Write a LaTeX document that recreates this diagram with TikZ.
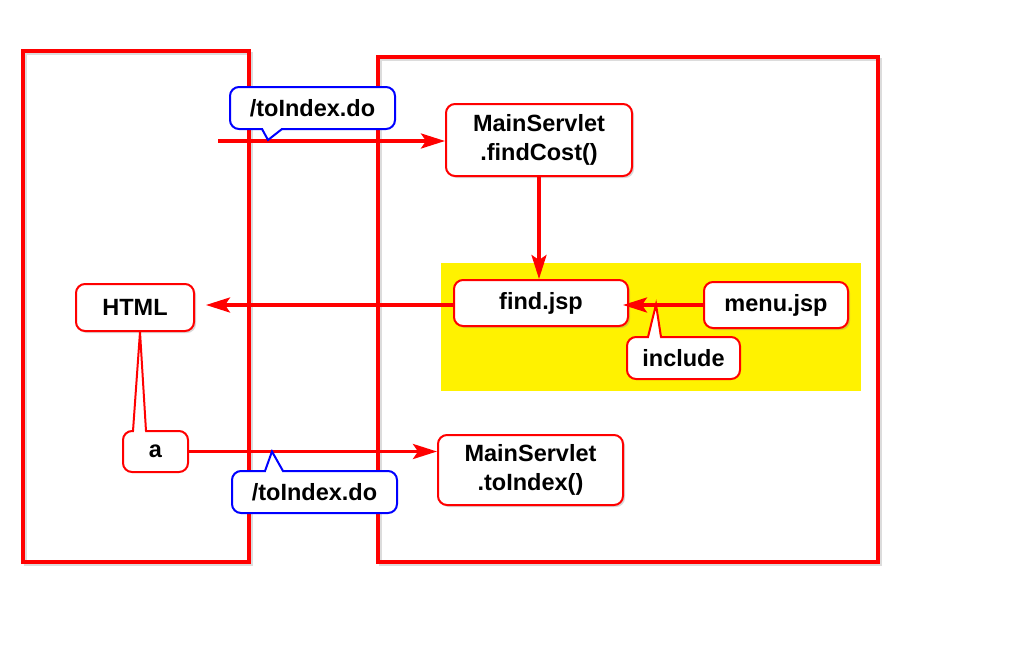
\documentclass[tikz,border=0pt]{standalone}
\usepackage{fontspec}
\setmainfont{Liberation Sans}
\usetikzlibrary{arrows.meta,shadows}
\begin{document}
\begin{tikzpicture}[x=1pt,y=-1pt,
  frame/.style={draw=red,line width=3.5pt},
  frameshadow/.style={draw=black!45,line width=3.5pt,opacity=0.3},
  txt/.style={font=\fontsize{23.5}{29.5}\selectfont\bfseries,align=center,inner sep=0pt},
  box/.style={txt,draw=red,line width=2pt,fill=white,rounded corners=9pt,
    drop shadow={shadow xshift=2pt,shadow yshift=-2pt,opacity=0.3}},
  bcall/.style={txt,draw=blue,line width=2pt,fill=white,rounded corners=9pt},
  rcall/.style={txt,draw=red,line width=2pt,fill=white,rounded corners=9pt},
  conn/.style={draw=red,line width=3.4pt,-{Stealth[length=24pt,width=15pt,inset=5pt]}},
  ptrside/.style={line width=2pt,line join=miter}
]
\useasboundingbox (0,0) rectangle (1024,653);
% frames
\draw[frameshadow] (25.5,53.5) rectangle (251.5,564.5);
\draw[frameshadow] (380.5,59.5) rectangle (880.5,564.5);
\draw[frame] (23,51) rectangle (249,562);
\draw[frame] (378,57) rectangle (878,562);
% yellow area
\fill[yellow] (441,263) rectangle (861,391);
% boxes
\node[box,minimum width=186pt,minimum height=72pt] (cost) at (539,140) {MainServlet\\.findCost()};
\node[box,minimum width=174pt,minimum height=46pt] (find) at (541,303) {find.jsp};
\node[box,minimum width=144pt,minimum height=46pt] (menu) at (776,305) {menu.jsp};
\node[box,minimum width=118pt,minimum height=47pt] (html) at (135,307.5) {HTML};
\node[box,minimum width=185pt,minimum height=70pt] (toidx) at (530.5,470) {MainServlet\\.toIndex()};
\node[rcall,minimum width=65pt,minimum height=41pt] (a) at (155.5,451.5) {a};
% connectors
\coordinate (start) at (218,141);
\draw[conn] (start) -- (start -| cost.west);
\draw[conn] (cost.south) -- (cost.south |- find.north);
\draw[conn,shorten >=11pt] (find.west |- 0,305) -- (html.east |- 0,305);
\draw[conn,shorten >=-6pt] (menu.west) -- (find.east |- menu.west);
\draw[conn] (a.east) -- (a.east -| toidx.west);
% callouts
\node[bcall,minimum width=165pt,minimum height=42pt] (c1) at (312.5,108) {/toIndex.do};
\node[bcall,minimum width=165pt,minimum height=42pt] (c2) at (314.5,492) {/toIndex.do};
\node[rcall,minimum width=113pt,minimum height=42pt] (inc) at (683.5,358) {include};
% pointers
\fill[white] (263,126) -- (263,129) -- (268,139.5) -- (281,129) -- (281,126) -- cycle;
\draw[ptrside,blue] (262,129) -- (268,140) -- (282,129);
\fill[white] (266,474) -- (266,471) -- (272,452) -- (282,471) -- (282,474) -- cycle;
\draw[ptrside,blue] (265,471) -- (272,451.5) -- (283,471);
\fill[white] (649,340) -- (649,337) -- (656,305) -- (660,337) -- (660,340) -- cycle;
\draw[ptrside,red] (648,337) -- (656,304.5) -- (661,337);
\fill[white] (134,434) -- (134,431) -- (140,333) -- (145,431) -- (145,434) -- cycle;
\draw[ptrside,red] (133,431) -- (140,332) -- (146,431);
\end{tikzpicture}
\end{document}
